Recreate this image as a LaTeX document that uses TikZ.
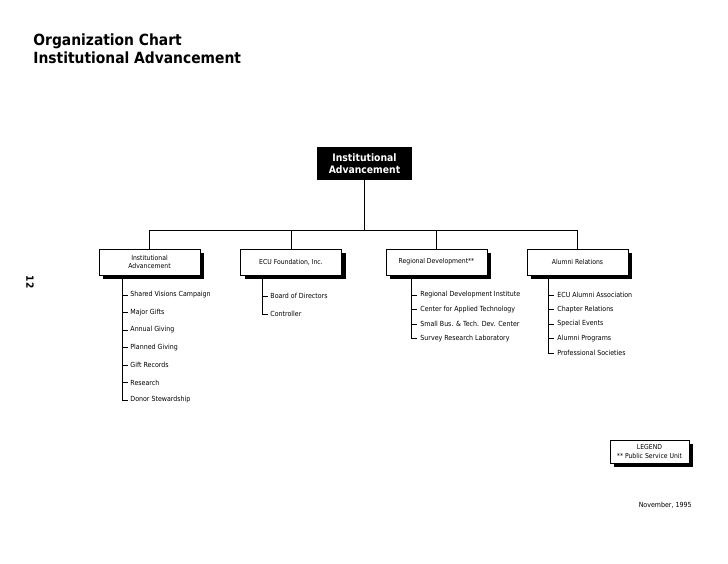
\documentclass[tikz,border=0pt]{standalone}
\usepackage{fontspec}
\setmainfont{DejaVu Sans Condensed}
\usetikzlibrary{calc,shadows}
\begin{document}
\begin{tikzpicture}[x=1pt,y=-1pt,
  line width=0.9pt,
  topbox/.style={fill=black, text=white, minimum width=95pt, minimum height=33pt,
    align=center, inner sep=1pt, font=\bfseries\fontsize{10.3}{12}\selectfont},
  unitbox/.style={draw, fill=white, minimum width=101pt, minimum height=26pt,
    align=center, inner sep=1pt, font=\fontsize{6.8}{7.6}\selectfont,
    general shadow={fill=black, shadow xshift=4pt, shadow yshift=-4pt}},
  legendbox/.style={draw, fill=white, minimum width=79pt, minimum height=23pt,
    align=center, inner sep=1pt, font=\fontsize{6.8}{9}\selectfont,
    general shadow={fill=black, shadow xshift=3.5pt, shadow yshift=-3.5pt}},
  item/.style={anchor=west, inner sep=1pt, font=\fontsize{7}{8}\selectfont},
  plain/.style={inner sep=0pt, font=\fontsize{7}{8}\selectfont}]
\useasboundingbox (0,0) rectangle (728,563);

% title
\node[anchor=north west, inner sep=0pt, align=left,
      font=\bfseries\fontsize{15.4}{18}\selectfont] (title) at (33,33)
  {Organization Chart\\Institutional Advancement};
\node[rotate=-90, inner sep=0pt, font=\bfseries\fontsize{10}{12}\selectfont] (page) at (30,282) {12};

% top box
\node[topbox] (top) at (364.5,163.5) {Institutional\\Advancement};

% level 2 boxes
\node[unitbox] (b1) at (149.5,262) {Institutional\\Advancement};
\node[unitbox] (b2) at (291,262) {ECU Foundation, Inc.};
\node[unitbox] (b3) at (436.5,262) {Regional Development**};
\node[unitbox] (b4) at (577.5,262) {Alumni Relations};

% bus
\coordinate (bus) at (364.5,230);
\draw (top.south) -- (bus);
\draw (b1.north |- bus) -- (b4.north |- bus);
\foreach \b in {b1,b2,b3,b4} \draw (\b.north |- bus) -- (\b.north);

% spines
\coordinate (s1) at (122,278);
\coordinate (s2) at (262,278);
\coordinate (s3) at (411,278);
\coordinate (s4) at (548,278);

% children of b1
\node[item] (c11) at (129,295)   {Shared Visions Campaign};
\node[item] (c12) at (129,312.5) {Major Gifts};
\node[item] (c13) at (129,330)   {Annual Giving};
\node[item] (c14) at (129,347.5) {Planned Giving};
\node[item] (c15) at (129,365)   {Gift Records};
\node[item] (c16) at (129,382.5) {Research};
\node[item] (c17) at (129,400)   {Donor Stewardship};
\draw (s1) -- (s1 |- c17.west);
\foreach \c in {c11,c12,c13,c14,c15,c16,c17} \draw (s1 |- \c.west) -- ++(6,0);

% children of b2
\node[item] (c21) at (269,296) {Board of Directors};
\node[item] (c22) at (269,314) {Controller};
\draw (s2) -- (s2 |- c22.west);
\foreach \c in {c21,c22} \draw (s2 |- \c.west) -- ++(6,0);

% children of b3
\node[item] (c31) at (419,295)   {Regional Development Institute};
\node[item] (c32) at (419,309.5) {Center for Applied Technology};
\node[item] (c33) at (419,324)   {Small Bus. \& Tech. Dev. Center};
\node[item] (c34) at (419,338.5) {Survey Research Laboratory};
\draw (s3) -- (s3 |- c34.west);
\foreach \c in {c31,c32,c33,c34} \draw (s3 |- \c.west) -- ++(6,0);

% children of b4
\node[item] (c41) at (556,295)   {ECU Alumni Association};
\node[item] (c42) at (556,309.5) {Chapter Relations};
\node[item] (c43) at (556,324)   {Special Events};
\node[item] (c44) at (556,338.5) {Alumni Programs};
\node[item] (c45) at (556,353)   {Professional Societies};
\draw (s4) -- (s4 |- c45.west);
\foreach \c in {c41,c42,c43,c44,c45} \draw (s4 |- \c.west) -- ++(6,0);

% legend
\node[legendbox] (legend) at (649.5,451.5) {LEGEND\\** Public Service Unit};

% date
\node[plain, anchor=east] (date) at (692,505) {November, 1995};
\end{tikzpicture}
\end{document}
